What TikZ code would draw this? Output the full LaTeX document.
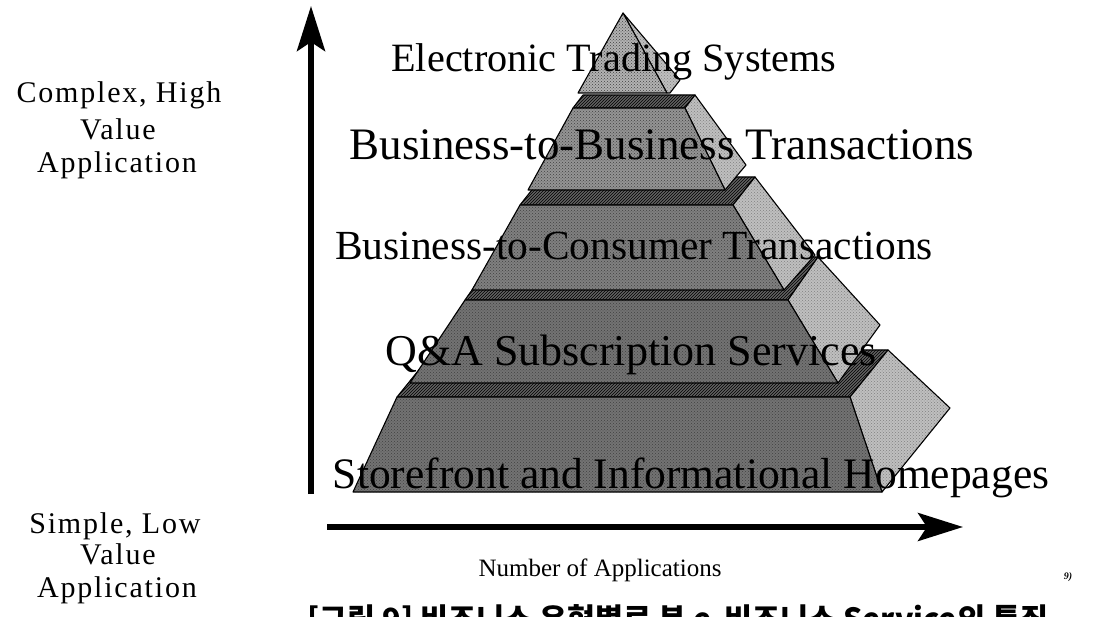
\documentclass[tikz,border=0pt]{standalone}
\usepackage{fontspec}
\setmainfont{Liberation Serif}
\newfontfamily\spacedserif[LetterSpace=6]{Liberation Serif}
\newfontfamily\kofont{Noto Sans CJK KR}
\usetikzlibrary{arrows.meta,patterns}
\tikzset{
  face/.style={draw=black, line width=1.1pt, line join=round},
  frontface/.style={face, preaction={fill=#1}, pattern=crosshatch dots, pattern color=black!75},
  sideface/.style={face, preaction={fill=black!25}, pattern=crosshatch dots, pattern color=black!50},
  topface/.style={face, preaction={fill=black!62}, pattern=north east lines, pattern color=black},
  lbl/.style={font=\fontsize{#1}{#1}\selectfont, anchor=base, inner sep=0pt},
  sidelbl/.style={font=\spacedserif\fontsize{30}{30}\selectfont, anchor=base, inner sep=0pt},
  axisarrow/.style={line width=#1, -{Stealth[length=45pt,width=28pt,inset=9pt]}},
}
\begin{document}
\begin{tikzpicture}[x=1pt,y=-1pt]
\useasboundingbox (0,0) rectangle (1098,617);
\begin{scope}
\clip (0,0) rectangle (1098,617);

% ---- layer 5 (Storefront)
\path[topface] (397,397) -- (850,397) -- (888,350) -- (435,350) -- cycle;
\path[sideface] (850,397) -- (888,350) -- (950,408) -- (882,492) -- cycle;
\path[frontface=black!55] (397,397) -- (850,397) -- (882,492) -- (353,492) -- cycle;
% ---- layer 4 (Q&A)
\path[topface] (465,300) -- (788,300) -- (818,257) -- (495,257) -- cycle;
\path[sideface] (788,300) -- (818,257) -- (880,325) -- (838,383) -- cycle;
\path[frontface=black!55] (465,300) -- (788,300) -- (838,383) -- (410,383) -- cycle;
% ---- layer 3 (B2C)
\path[topface] (520,205) -- (733,205) -- (755,177) -- (542,177) -- cycle;
\path[sideface] (733,205) -- (755,177) -- (815,255) -- (784,290) -- cycle;
\path[frontface=black!50] (520,205) -- (733,205) -- (784,290) -- (472,290) -- cycle;
% ---- layer 2 (B2B)
\path[topface] (573,108) -- (685,108) -- (695,95) -- (583,95) -- cycle;
\path[sideface] (685,108) -- (695,95) -- (746,165) -- (725,190) -- cycle;
\path[frontface=black!42] (573,108) -- (685,108) -- (725,190) -- (528,190) -- cycle;
% ---- layer 1 (apex)
\path[sideface] (623,13) -- (680,80) -- (670,93) -- (667,93) -- cycle;
\path[frontface=black!30] (623,13) -- (667,93) -- (578,93) -- cycle;

% ---- pyramid labels
\node[lbl=40.2] (ets) at (614,72) {Electronic Trading Systems};
\node[lbl=45] (b2b) at (662,160) {Business-to-Business Transactions};
\node[lbl=41.4] (b2c) at (634,260) {Business-to-Consumer Transactions};
\node[lbl=44] (qa)  at (631,366) {Q\&A Subscription Services};
\node[lbl=43.5] (sf)  at (691,488) {Storefront and Informational Homepages};

% ---- axes
\coordinate (vbot) at (311,494);
\coordinate (vtop) at (311,6);
\coordinate (hleft) at (327,527);
\coordinate (hright) at (963,527);
\draw[axisarrow=6pt] (vbot) -- (vtop);
\draw[axisarrow=5.5pt] (hleft) -- (hright);

% ---- side labels
\node[sidelbl] (c1) at (119,103) {Complex, High};
\node[sidelbl] (c2) at (118,140) {Value};
\node[sidelbl] (c3) at (117,173) {Application};
\node[sidelbl] (s1) at (115,533) {Simple, Low};
\node[sidelbl] (s2) at (118,564) {Value};
\node[sidelbl] (s3) at (117,597) {Application};

\node[font=\fontsize{25}{25}\selectfont, anchor=base, inner sep=0pt] (num) at (600,576) {Number of Applications};
\node[font=\fontsize{10}{10}\selectfont\itshape\bfseries, anchor=base, inner sep=0pt] (ref) at (1068,579) {9)};

% ---- caption (cut off at the bottom edge, as in the source)
\node[anchor=north west, inner sep=0pt] (cap) at (307,604)
  {\resizebox{741pt}{!}{\kofont\bfseries [그림 9] 비즈니스 유형별로 본 e-비즈니스 Service의 특징}};
\end{scope}
\end{tikzpicture}
\end{document}
